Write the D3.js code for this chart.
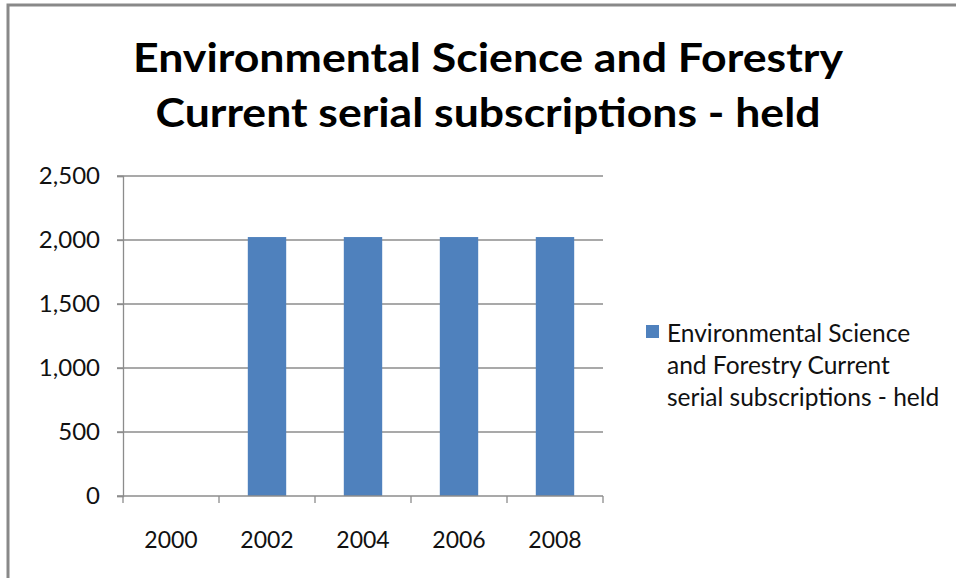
<!DOCTYPE html>
<html>
<head>
<meta charset="utf-8">
<script src="https://cdn.jsdelivr.net/npm/d3@7"></script>
<style>
  html, body { margin: 0; padding: 0; background: #fff; }
  svg { display: block; }
</style>
</head>
<body>
<svg id="chart" width="956" height="578"></svg>
<script>
const titleLines = ["Environmental Science and Forestry", "Current serial subscriptions - held"];
const years = ["2000", "2002", "2004", "2006", "2008"];
const values = [0, 2023, 2023, 2023, 2023];
const yTicks = [0, 500, 1000, 1500, 2000, 2500];
const legendLines = ["Environmental Science", "and Forestry Current", "serial subscriptions - held"];

const svg = d3.select("#chart");
const font = "Lato, 'Open Sans', sans-serif";

// outer border (only top/left visible in reference)
svg.append("rect")
  .attr("x", 8).attr("y", 5)
  .attr("width", 1000).attr("height", 700)
  .attr("fill", "#fff").attr("stroke", "#898989").attr("stroke-width", 3);

// title
const title = svg.append("g");
const titleWidths = [710, 665];
titleLines.forEach((t, i) => {
  title.append("text")
    .attr("x", 488).attr("y", 72 + i * 55)
    .attr("text-anchor", "middle")
    .attr("font-family", font).attr("font-weight", "bold")
    .attr("font-size", 40).attr("fill", "#000")
    .attr("textLength", titleWidths[i]).attr("lengthAdjust", "spacingAndGlyphs")
    .text(t);
});

const plot = { left: 123, right: 603, top: 176, bottom: 496 };

const x = d3.scaleBand().domain(years).range([plot.left, plot.right]).paddingInner(0.6).paddingOuter(0.3);
const xOuter = d3.scaleBand().domain(years).range([plot.left, plot.right]);
const y = d3.scaleLinear().domain([0, 2500]).range([plot.bottom, plot.top]);

// gridlines
svg.append("g").selectAll("line").data(yTicks.filter(d => d > 0)).join("line")
  .attr("x1", plot.left - 6).attr("x2", plot.right)
  .attr("y1", d => y(d)).attr("y2", d => y(d))
  .attr("stroke", "#8c8c8c").attr("stroke-width", 1.3);

// y axis
const yAxis = svg.append("g").attr("transform", `translate(${plot.left},0)`)
  .call(d3.axisLeft(y).tickValues(yTicks).tickFormat(d3.format(",")).tickSize(6).tickPadding(17));
yAxis.select(".domain").attr("stroke", "#8c8c8c").attr("stroke-width", 1.3);
yAxis.selectAll(".tick line").attr("stroke", "#8c8c8c").attr("stroke-width", 1.3);
yAxis.selectAll("text").attr("font-family", font).attr("font-size", 24).attr("fill", "#111");

// bars
svg.append("g").selectAll("rect").data(years.map((yr, i) => ({ yr, v: values[i] }))).join("rect")
  .attr("x", d => x(d.yr)).attr("width", x.bandwidth())
  .attr("y", d => y(d.v)).attr("height", d => y(0) - y(d.v))
  .attr("fill", "#4f81bd");

// x axis
const xAxisG = svg.append("g").attr("transform", `translate(0,${plot.bottom})`);
xAxisG.append("line").attr("x1", plot.left - 6).attr("x2", plot.right)
  .attr("stroke", "#8c8c8c").attr("stroke-width", 1.3);
const bounds = xOuter.domain().map(d => xOuter(d)).concat([plot.right]);
xAxisG.selectAll("line.tk").data(bounds).join("line").attr("class", "tk")
  .attr("x1", d => d).attr("x2", d => d).attr("y1", 0).attr("y2", 7)
  .attr("stroke", "#8c8c8c").attr("stroke-width", 1.3);
xAxisG.selectAll("text").data(years).join("text")
  .attr("x", d => xOuter(d) + xOuter.bandwidth() / 2).attr("y", 52)
  .attr("text-anchor", "middle")
  .attr("font-family", font).attr("font-size", 23).attr("fill", "#111")
  .text(d => d);

// legend
const lg = svg.append("g");
lg.append("rect").attr("x", 646).attr("y", 325).attr("width", 13).attr("height", 13).attr("fill", "#4f81bd");
legendLines.forEach((t, i) => {
  lg.append("text").attr("x", 667).attr("y", 342 + i * 32)
    .attr("font-family", font).attr("font-size", 24.5).attr("fill", "#111")
    .text(t);
});
</script>
</body>
</html>
